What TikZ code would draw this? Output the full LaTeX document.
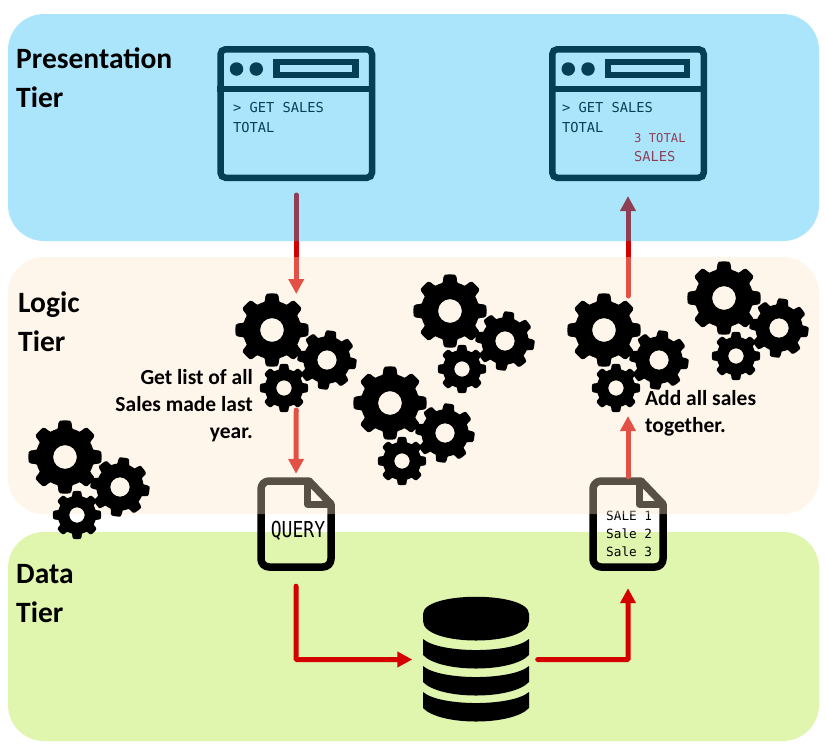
\documentclass[tikz,border=0pt]{standalone}
\usepackage{fontspec}
\setmainfont{Carlito}
\newfontfamily\termfont{DejaVu Sans Mono}
\usetikzlibrary{arrows.meta,positioning}
\definecolor{tierblue}{RGB}{15,183,246}
\definecolor{tierpeach}{RGB}{255,230,200}
\definecolor{tiergreen}{RGB}{224,245,174}
\definecolor{flowred}{RGB}{212,0,0}
% x/y radius, hole, turn
\newcommand{\gearwheel}[5]{%
  \fill[black,even odd rule,draw=black,line width=1.2pt,line join=round]
    plot[domain=0:360,samples=145,variable=\t]
      ({#1+#3*(0.79+0.21*max(0,min(1,0.5+1.6*cos(8*(\t-#4))))*1)*cos(\t)},
       {#2+#3*(0.79+0.21*max(0,min(1,0.5+1.6*cos(8*(\t-#4))))*1)*sin(\t)}) -- cycle
    (#1,#2) circle (#5);}
\begin{document}
\begin{tikzpicture}[
      x=1pt,y=-1pt,
      band/.style={
         rectangle,
         rounded corners=36pt,
         minimum width=811pt,
         fill opacity=0.35},
      flow/.style={-{Triangle[length=15pt,width=15pt]}, draw=flowred, line width=5pt, line cap=round},
      webbox/.style={
         rectangle,
         draw=black,
         line width=6.5pt,
         rounded corners=5pt,
         inner sep=0pt,
         minimum width=151.5pt,
         minimum height=128.5pt},
      slot/.style={rectangle, draw=black, line width=6.5pt, inner sep=0pt,
         minimum width=79pt, minimum height=13pt},
      dot/.style={circle, fill=black, inner sep=0pt, minimum size=13.5pt},
      shell/.style={rectangle, inner sep=0pt, minimum width=78pt, minimum height=94pt},
      filepath/.style={draw=black, line width=7.5pt, line join=round},
      termtext/.style={anchor=base west, inner sep=0pt, text=black, font=\termfont\fontsize{13.7}{16}\selectfont},
      tiertext/.style={anchor=west, inner sep=0pt, align=left, font=\bfseries\fontsize{29.5}{39}\selectfont},
      notetext/.style={inner sep=0pt, font=\bfseries\fontsize{21.5}{27}\selectfont}
      ]
      \useasboundingbox (0,0) rectangle (826,748);
      \fill[white] (0,0) rectangle (826,748);

      % lowest band is opaque, the other two go over the icons
      \node[band, minimum height=209pt, fill=tiergreen, fill opacity=1] (databand) at (413.5,636.5) {};

      % browser windows
      \foreach \w/\xw in {webA/296.25, webB/628} {
        \node[webbox] (\w) at (\xw,113.5) {};
        \draw[black, line width=6.5pt] (\w.west |- 0,89) -- (\w.east |- 0,89);
        \node[dot] (\w dotl) at (\xw-59.75,69) {};
        \node[dot] (\w dotr) at (\xw-40,69) {};
        \node[slot] (\w slot) at (\xw+19.5,68.5) {};
      }
      \node[termtext] (cmdA) at (233,112) {> GET SALES};
      \node[termtext] (totA) at (233,132.5) {TOTAL};
      \node[termtext] (cmdB) at (562,112) {> GET SALES};
      \node[termtext] (totB) at (562,132.5) {TOTAL};
      \node[termtext, text=flowred, font=\termfont\fontsize{12.2}{14}\selectfont] (resA) at (634,142.7) {3 TOTAL};
      \node[termtext, text=flowred] (resB) at (634,161.7) {SALES};

      % the two documents
      \foreach \f/\xf in {fileA/296, fileB/628} {
        \node[shell] (\f) at (\xf,524) {};
        \draw[filepath, rounded corners=8pt]
          (\xf-25,481) -- (\xf-35,481) -- (\xf-35,567) -- (\xf+35,567) -- (\xf+35,520);
        \draw[filepath] (\xf-25,481) -- (\xf+13,481) -- (\xf+35,504) -- (\xf+35,520);
        \draw[filepath, line width=7pt] (\xf+11.5,481) -- (\xf+11.5,504) -- (\xf+35,504);
      }
      \node[anchor=base, inner sep=0pt, xscale=0.82, font=\termfont\fontsize{22}{24}\selectfont] (qtext) at (298,537) {QUERY};
      \foreach \s/\t/\ys in {saleA/SALE 1/520.7, saleB/Sale 2/538.7, saleC/Sale 3/556.7}
        \node[termtext, font=\termfont\fontsize{12.7}{14}\selectfont] (\s) at (606,\ys) {\t};

      % database, only its frame here
      \node[rectangle, inner sep=0pt, minimum width=107pt, minimum height=125pt] (dbase) at (476,659.5) {};
      \coordinate (gearsA) at (296.25,410);
      \coordinate (gearsB) at (628,416);
      \coordinate (gearsC) at (628,296);

      \draw[flow, shorten <=14pt, shorten >=99pt] (webA.south) -- (296.25,393);
      \draw[flow, shorten >=3pt] (gearsA) -- (fileA.north);
      \draw[flow, shorten <=15pt, shorten >=10pt, rounded corners=1pt] (fileA.south) |- (dbase.west);
      \draw[flow, shorten <=8pt, shorten >=17pt, rounded corners=1pt] (dbase.east) -| (fileB.south);
      \draw[flow, shorten <=0pt] (fileB.north) -- (gearsB);
      \draw[flow, shorten >=15pt] (gearsC) -- (webB.south);

      \node[band, minimum height=257pt, fill=tierpeach] (logicband) at (413.5,385.5) {};
      \node[band, minimum height=227pt, fill=tierblue] (topband) at (413.5,127.5) {};

      % gears, one big, one middle and one small in every heap
      \foreach \gx/\gy in {65/457, 272/330, 450/311, 390/403, 604/330, 724/298} {
        \gearwheel{\gx}{\gy}{36}{0}{12.5}
        \gearwheel{\gx+55}{\gy+30}{29}{8}{10.3}
        \gearwheel{\gx+12}{\gy+58}{23.5}{0}{8.3}
      }

      % database discs
      \fill (423,614) .. controls (423,591) and (529,591) .. (529,614) -- (529,621)
        .. controls (529,647) and (423,647) .. (423,621) -- cycle;
      \foreach \y in {639,666,692}
        \fill (423,\y) .. controls (440,{\y+14.7}) and (512,{\y+14.7}) .. (529,\y) -- (529,{\y+16})
          .. controls (512,{\y+34}) and (440,{\y+34}) .. (423,{\y+16}) -- cycle;

      \node[tiertext] (presentlbl) at (16,78) {Presentation\\Tier};
      \node[tiertext] (logiclbl) at (18,322) {Logic\\Tier};
      \node[tiertext] (datalbl) at (16,594) {Data\\Tier};
      \node[notetext, anchor=east, align=right] (querynote) at (253,406) {Get list of all\\Sales made last\\year.};
      \node[notetext, anchor=west, align=left] (sumnote) at (645,413) {Add all sales\\together.};
\end{tikzpicture}
\end{document}
